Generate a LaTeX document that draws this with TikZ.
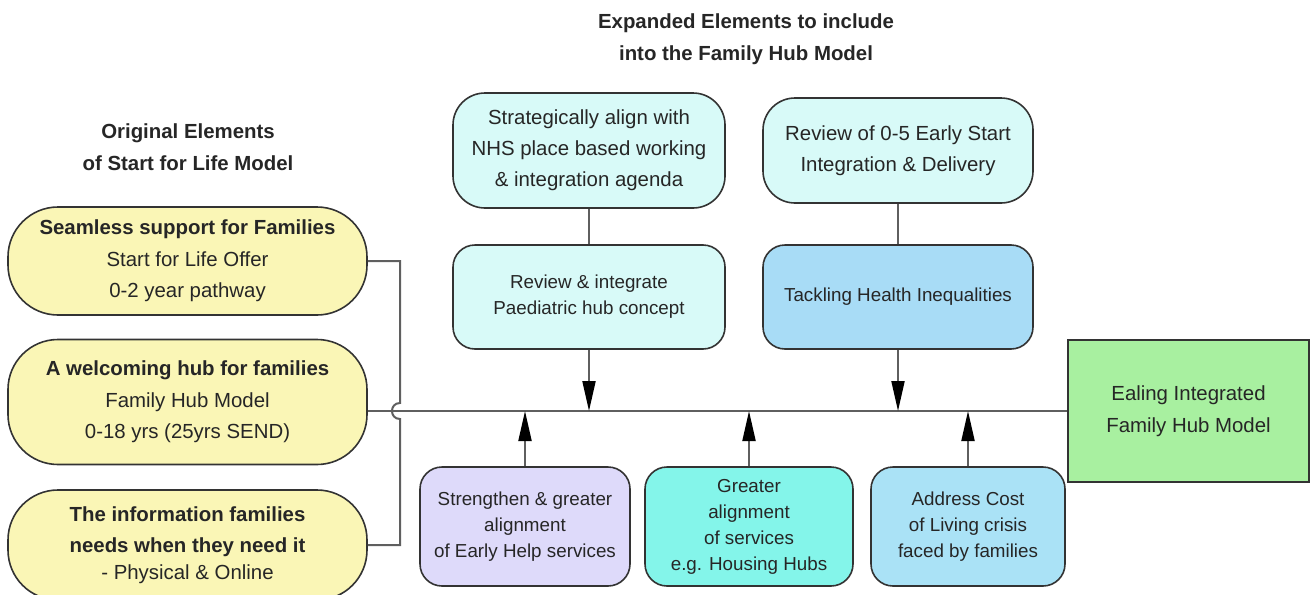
\documentclass[tikz,border=0pt]{standalone}
\usepackage{fontspec}
\setmainfont{Liberation Sans}
\usetikzlibrary{arrows.meta,calc}
\definecolor{yellowfill}{RGB}{250,246,182}
\definecolor{aquafill}{RGB}{216,250,248}
\definecolor{skyfill}{RGB}{168,220,246}
\definecolor{lilacfill}{RGB}{222,218,250}
\definecolor{tealfill}{RGB}{132,245,234}
\definecolor{bluefill}{RGB}{170,226,246}
\definecolor{greenfill}{RGB}{168,240,160}
\definecolor{linkgray}{RGB}{95,95,95}

\begin{document}
\begin{tikzpicture}[x=0.5pt, y=-0.5pt,
    box/.style={draw=black!80, line width=0.8pt, align=center, text=black!85, inner sep=0pt},
    pill/.style={box, fill=yellowfill, rounded corners=25pt, minimum width=179.5pt, font=\fontsize{10.2}{15.8}\selectfont},
    bigbox/.style={box, rounded corners=16pt, font=\fontsize{10.2}{15.6}\selectfont},
    smallbox/.style={box, rounded corners=11pt, font=\fontsize{9.4}{13}\selectfont},
    heading/.style={font=\bfseries\fontsize{10.2}{16}\selectfont, align=center, text=black!85},
    link/.style={draw=linkgray, line width=1pt},
    feed/.style={link, -{Triangle[length=15pt,width=6.5pt,color=black]}}]
    \useasboundingbox (0,0) rectangle (1310,594);

    \node[heading] (topttl) at (746,39) {Expanded Elements to include\\into the Family Hub Model};
    \node[heading] (leftttl) at (188,147) {Original Elements\\of Start for Life Model};

    \node[pill, minimum height=54pt] (yA) at (187.5,261) {\textbf{Seamless support for Families}\\Start for Life Offer\\0-2 year pathway};
    \node[pill, minimum height=62.5pt] (yB) at (187.5,402) {\textbf{A welcoming hub for families}\\Family Hub Model\\0-18 yrs (25yrs SEND)};
    \node[pill, minimum height=55pt] (yC) at (187.5,545) {\textbf{The information families}\\\textbf{needs when they need it}\\[-2.5pt]- Physical \& Online};

    \node[bigbox, fill=aquafill, minimum width=136pt, minimum height=57.5pt] (sA) at (589,150.5) {Strategically align with\\NHS place based working\\\& integration agenda};
    \node[smallbox, fill=aquafill, minimum width=136pt, minimum height=52pt] (sB) at (589,297) {Review \& integrate\\Paediatric hub concept};
    \node[bigbox, fill=aquafill, minimum width=135pt, minimum height=52.5pt] (sC) at (898,150.5) {Review of 0-5 Early Start\\Integration \& Delivery};
    \node[smallbox, fill=skyfill, minimum width=135pt, minimum height=52pt] (sD) at (898,297) {Tackling Health Inequalities};

    \node[smallbox, fill=lilacfill, minimum width=105pt, minimum height=59.5pt] (pP) at (525,526.5) {Strengthen \& greater\\alignment\\of Early Help services};
    \node[smallbox, fill=tealfill, minimum width=104pt, minimum height=59.5pt] (pC) at (749,526.5) {Greater\\alignment\\of services\\e.g. Housing Hubs};
    \node[smallbox, fill=bluefill, minimum width=97pt, minimum height=59.5pt] (pB) at (968,526.5) {Address Cost\\of Living crisis\\faced by families};

    \node[box, fill=greenfill, minimum width=120.5pt, minimum height=71pt, font=\fontsize{10.2}{16}\selectfont] (hub) at (1188.5,411) {Ealing Integrated\\Family Hub Model};

    \coordinate (brk) at (400,0);
    \draw[link] (hub.west -| yB.east) -- (hub.west);
    \draw[link] (yA.east) -- (yA.east -| brk) -- ($(hub.west -| brk)+(0,-8)$) .. controls +(-10.7,0) and +(-10.7,0) .. ($(hub.west -| brk)+(0,8)$) -- (yC.east -| brk) -- (yC.east);

    \draw[link] (sA.south) -- (sB.north);
    \draw[link] (sC.south) -- (sD.north);
    \draw[feed] (sB.south) -- (sB.south |- hub.west);
    \draw[feed] (sD.south) -- (sD.south |- hub.west);
    \draw[feed] (pP.north) -- (pP.north |- hub.west);
    \draw[feed] (pC.north) -- (pC.north |- hub.west);
    \draw[feed] (pB.north) -- (pB.north |- hub.west);
\end{tikzpicture}
\end{document}
